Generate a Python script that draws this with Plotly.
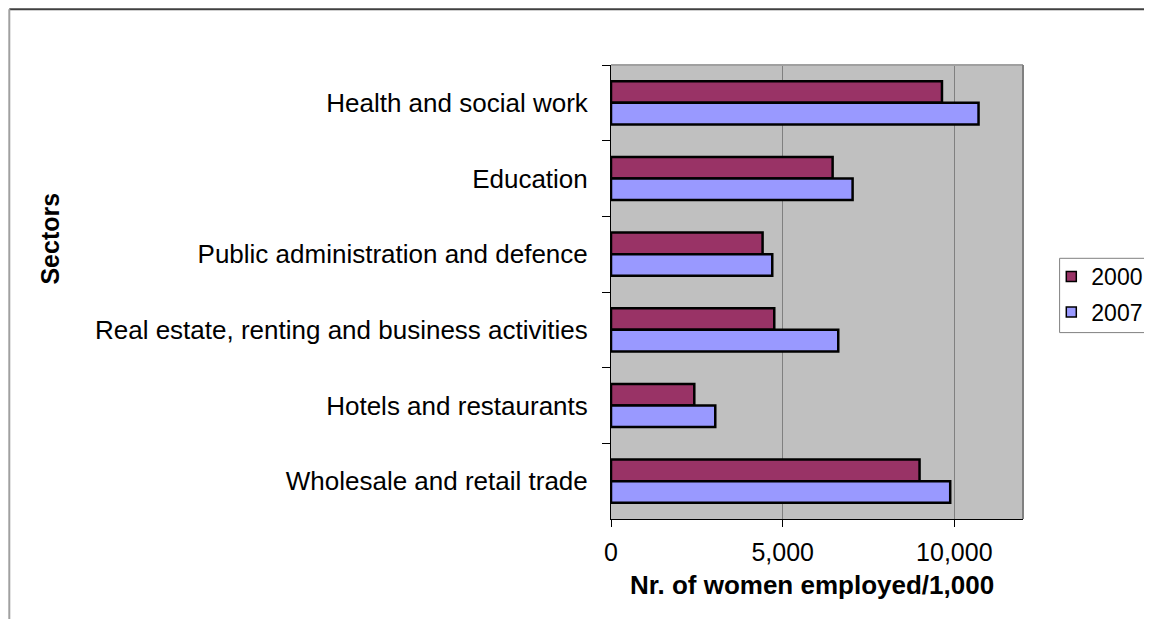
import plotly.graph_objects as go

sectors = [
    "Health and social work",
    "Education",
    "Public administration and defence",
    "Real estate, renting and business activities",
    "Hotels and restaurants",
    "Wholesale and retail trade",
]
years = ["2000", "2007"]
values_2000 = [9640, 6455, 4415, 4755, 2426, 8987]
values_2007 = [10705, 7037, 4697, 6619, 3037, 9880]
colors = {"2000": "#993366", "2007": "#9999FF"}
x_ticks = [0, 5000, 10000]
x_tick_text = ["0", "5,000", "10,000"]

FONT = "Liberation Sans, Arial, sans-serif"

fig = go.Figure()
for yr, vals in zip(years, [values_2000, values_2007]):
    fig.add_trace(go.Bar(
        y=sectors, x=vals, orientation="h", name=yr,
        marker=dict(color=colors[yr], line=dict(color="black", width=2.5)),
        showlegend=False,
    ))
    fig.add_trace(go.Scatter(
        x=[None], y=[None], mode="markers", name=yr, legendgroup=yr,
        marker=dict(symbol="square", size=10, color=colors[yr],
                    line=dict(color="black", width=1.5)),
    ))

# page offset of the plot div (body margin)
OFF = 8
W, H = 1152, 619
L, R, T, B = 610.7 - OFF, 1022.7 - OFF, 64.7 - OFF, 518.7 - OFF
pw, ph = R - L, B - T

def px(x_page):
    return (x_page - OFF - L) / pw

def py(y_page):
    return (B - (y_page - OFF)) / ph

fig.update_layout(
    width=W, height=H,
    margin=dict(l=L, r=W - R, t=T, b=H - B, pad=0, autoexpand=False),
    paper_bgcolor="white",
    plot_bgcolor="#C0C0C0",
    barmode="group",
    bargap=0.43,
    bargroupgap=0,
    font=dict(family=FONT, size=24, color="black"),
    showlegend=True,
    legend=dict(
        x=px(1051), y=py(254.7), xanchor="left", yanchor="top",
        bgcolor="rgba(0,0,0,0)", borderwidth=0,
        font=dict(size=23, family=FONT, color="black"),
        itemwidth=30, tracegroupgap=2.6,
    ),
    xaxis=dict(
        range=[0, 12000], tickvals=x_ticks, ticktext=x_tick_text,
        showgrid=True, gridcolor="#808080", gridwidth=1,
        showline=True, linecolor="black", linewidth=1,
        ticks="outside", ticklen=7, tickcolor="black",
        tickfont=dict(size=25, family=FONT), ticklabelstandoff=4,
        zeroline=False, fixedrange=True, automargin=False,
    ),
    yaxis=dict(
        type="category", categoryorder="array", categoryarray=sectors,
        autorange="reversed", tickson="boundaries",
        showline=True, linecolor="black", linewidth=1,
        ticks="outside", ticklen=8, tickcolor="black",
        tickfont=dict(size=26, family=FONT), ticklabelstandoff=17,
        showgrid=False, zeroline=False, fixedrange=True, automargin=False,
    ),
    shapes=[
        dict(type="line", xref="paper", yref="paper", x0=0, x1=1, y0=1, y1=1,
             line=dict(color="#A0A0A0", width=2)),
        dict(type="line", xref="paper", yref="paper", x0=1, x1=1, y0=0, y1=1,
             line=dict(color="#808080", width=2)),
        dict(type="line", xref="paper", yref="paper", x0=px(OFF + 1), x1=px(1200), y0=py(OFF + 1), y1=py(OFF + 1),
             line=dict(color="#404040", width=2)),
        dict(type="line", xref="paper", yref="paper", x0=px(OFF + 1), x1=px(OFF + 1), y0=py(OFF + 1), y1=py(700),
             line=dict(color="#A0A0A0", width=2)),
        dict(type="rect", xref="paper", yref="paper", x0=px(1059.3), x1=px(1200), y0=py(258), y1=py(332.3),
             line=dict(color="#808080", width=1), fillcolor="rgba(0,0,0,0)"),
    ],
    annotations=[
        dict(text="<b>Nr. of women employed/1,000</b>", xref="paper", yref="paper",
             x=px(811.5), y=py(585), xanchor="center", yanchor="middle",
             showarrow=False, font=dict(size=26, family=FONT)),
        dict(text="<b>Sectors</b>", xref="paper", yref="paper",
             x=px(50), y=py(238), xanchor="center", yanchor="middle", textangle=-90,
             showarrow=False, font=dict(size=25, family=FONT)),
    ],
)

fig.write_html("out.html")
